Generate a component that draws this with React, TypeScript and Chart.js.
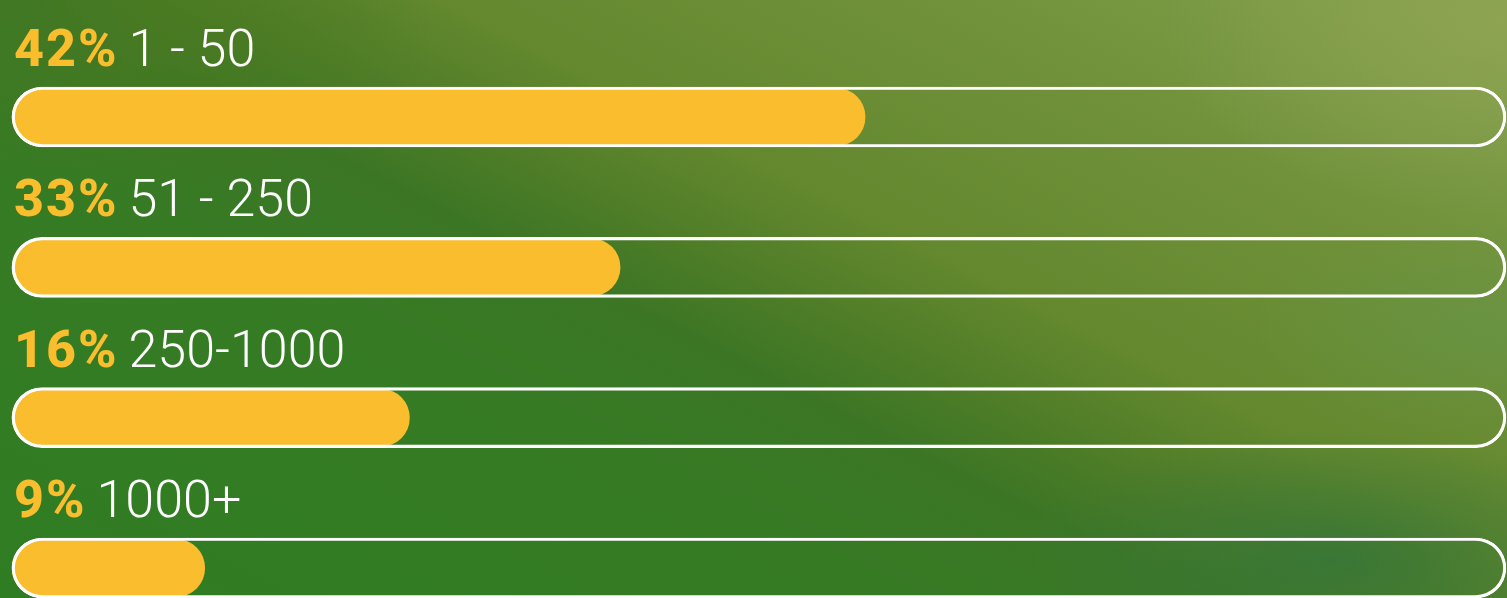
import React, { useEffect, useRef } from "react";
import { Chart, registerables } from "chart.js";

Chart.register(...registerables);

const categories = ["1 - 50", "51 - 250", "250-1000", "1000+"];
const percentLabels = ["42%", "33%", "16%", "9%"];
const fillValues = [57.1, 40.7, 26.6, 12.9];
const trackValues = [100, 100, 100, 100];

const YELLOW = "#F9BD2E";

const labelPlugin = {
  id: "rowLabels",
  afterDatasetsDraw(chart: any) {
    const ctx = chart.ctx;
    const yScale = chart.scales.y;
    ctx.save();
    ctx.textBaseline = "alphabetic";
    ctx.textAlign = "left";
    categories.forEach((cat, i) => {
      const y = yScale.getPixelForValue(i) - 51;
      const x = 14;
      ctx.font = "800 52px Roboto";
      (ctx as any).letterSpacing = "2px";
      ctx.fillStyle = YELLOW;
      const pct = percentLabels[i];
      ctx.fillText(pct, x, y);
      const w = ctx.measureText(pct).width;
      ctx.font = "300 52px Roboto";
      (ctx as any).letterSpacing = "0px";
      ctx.fillStyle = "#ffffff";
      ctx.fillText(cat, x + w + 10, y);
    });
    ctx.restore();
  },
};

export default function App() {
  const ref = useRef<HTMLCanvasElement>(null);
  useEffect(() => {
    document.body.style.margin = "0";
    const chart = new Chart(ref.current!, {
      type: "bar",
      data: {
        labels: categories,
        datasets: [
          {
            label: "track",
            data: trackValues,
            backgroundColor: "rgba(0,0,0,0)",
            borderColor: "#ffffff",
            borderWidth: 2.5,
            borderRadius: 30,
            borderSkipped: false,
            barThickness: 60,
            order: 0,
            clip: false as any,
          },
          {
            label: "fill",
            data: fillValues,
            backgroundColor: YELLOW,
            borderWidth: 0,
            borderRadius: 29,
            borderSkipped: false,
            barThickness: 57,
            order: 1,
            clip: false as any,
          },
        ],
      },
      options: {
        indexAxis: "y",
        responsive: false,
        animation: false,
        maintainAspectRatio: false,
        layout: { padding: { top: 117, bottom: 30, left: 12, right: 1 } },
        datasets: { bar: { grouped: false } as any },
        scales: {
          x: { type: "linear", min: 0, max: 100, display: false },
          y: { type: "category", offset: false, display: false, grid: { display: false } },
        },
        plugins: {
          legend: { display: false },
          tooltip: { enabled: false },
        },
      },
      plugins: [labelPlugin],
    });
    return () => chart.destroy();
  }, []);

  return (
    <div
      style={{
        position: "fixed",
        left: 0,
        top: 0,
        width: 1507,
        height: 598,
        overflow: "hidden",
        background:
          "radial-gradient(ellipse 420px 170px at 1330px 560px, rgba(55,118,55,0.9), rgba(55,118,55,0) 75%)," +
          "radial-gradient(ellipse 300px 140px at 1480px 330px, rgba(100,150,75,0.5), rgba(0,0,0,0) 75%)," +
          "radial-gradient(ellipse 450px 260px at 1500px 20px, rgba(145,165,85,0.8), rgba(0,0,0,0) 75%)," +
          "radial-gradient(ellipse 380px 200px at 150px 40px, rgba(74,122,32,0.7), rgba(0,0,0,0) 75%)," +
          "linear-gradient(27deg, #2f7d22 0%, #367b24 32%, #3c7625 45%, #4d7c27 51%, #63882e 60%, #70913a 78%, #82a04c 100%)",
      }}
    >
      <canvas ref={ref} width={1507} height={598} style={{ display: "block" }} />
    </div>
  );
}
